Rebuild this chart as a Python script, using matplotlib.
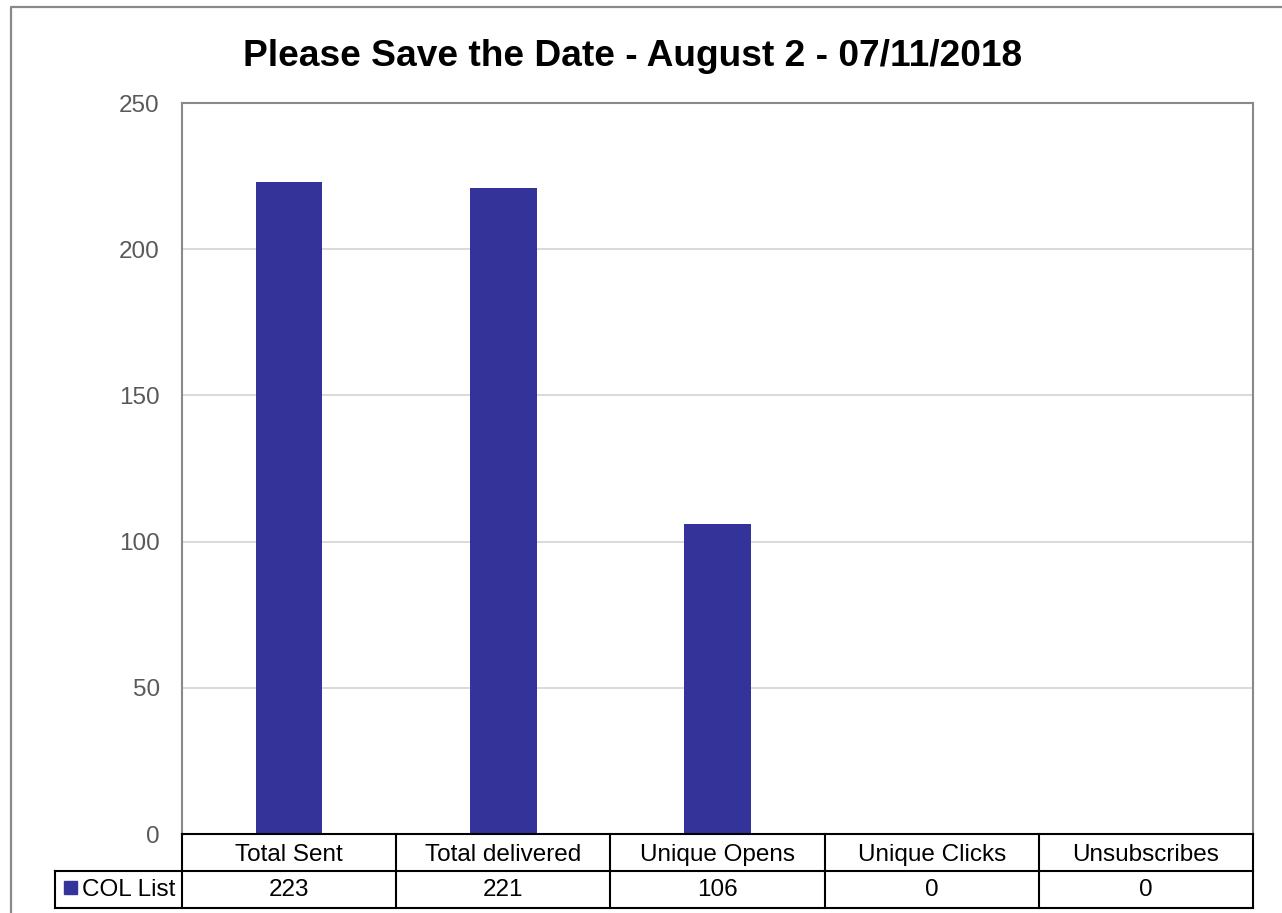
import matplotlib.pyplot as plt
from matplotlib.patches import Rectangle

plt.rcParams['font.family'] = ['Liberation Sans', 'DejaVu Sans']

# data
title = 'Please Save the Date - August 2 - 07/11/2018'
categories = ['Total Sent', 'Total delivered', 'Unique Opens', 'Unique Clicks', 'Unsubscribes']
series_name = 'COL List'
values = [223, 221, 106, 0, 0]
yticks = [0, 50, 100, 150, 200, 250]

bar_color = '#333399'
W, H = 1282, 913
fs = 17.5

fig = plt.figure(figsize=(W / 100, H / 100), dpi=100)

# plot area (pixel box: left 182, right 1253, top 103, bottom 834)
L, R, T, B = 182, 1253, 103, 834
ax = fig.add_axes([L / W, (H - B) / H, (R - L) / W, (B - T) / H])
x = range(len(categories))
ax.bar(x, values, width=0.31, color=bar_color, zorder=3)
ax.set_xlim(-0.5, len(categories) - 0.5)
ax.set_ylim(0, 250)
ax.set_yticks(yticks)
ax.set_xticks([])
ax.tick_params(axis='y', length=0, pad=16, labelsize=fs, labelcolor='#595959')
ax.grid(axis='y', color='#d9d9d9', linewidth=1.4, zorder=0)
for s in ['left', 'top', 'right']:
    ax.spines[s].set_color('#898989')
    ax.spines[s].set_linewidth(1.5)
ax.spines['bottom'].set_visible(False)

# title
fig.text(633 / W, 1 - 56 / H, title, ha='center', va='center',
         fontsize=26.7, fontweight='bold', color='black')

# overlay in pixel coords for the data table and outer border
ov = fig.add_axes([0, 0, 1, 1], zorder=5)
ov.set_xlim(0, W)
ov.set_ylim(H, 0)
ov.axis('off')
ov.patch.set_alpha(0)

# outer chart border (cropped at right/bottom)
ov.plot([11, 11, W + 5], [H + 5, 7, 7], color='#898989', lw=1.6)

n = len(categories)
colw = (R - L) / n
r0, r1, r2 = 834, 871, 908
lab_l = 55
tc = 'black'
lw = 1.5
ov.plot([L, R], [r0, r0], color=tc, lw=lw)
ov.plot([lab_l, R], [r1, r1], color=tc, lw=lw)
ov.plot([lab_l, R], [r2, r2], color=tc, lw=lw)
ov.plot([lab_l, lab_l], [r1, r2], color=tc, lw=lw)
for i in range(n + 1):
    xe = L + i * colw
    ov.plot([xe, xe], [r0, r2], color=tc, lw=lw)
for i, (c, v) in enumerate(zip(categories, values)):
    xc = L + (i + 0.5) * colw
    ov.text(xc, 861, c, ha='center', va='baseline', fontsize=fs, color=tc)
    ov.text(xc, 896, str(v), ha='center', va='baseline', fontsize=fs, color=tc)
# legend key + series name
ov.add_patch(Rectangle((64, 881), 13, 13, color=bar_color))
ov.text(82, 896, series_name, ha='left', va='baseline', fontsize=fs, color=tc)

fig.savefig('out.png', dpi=100)
